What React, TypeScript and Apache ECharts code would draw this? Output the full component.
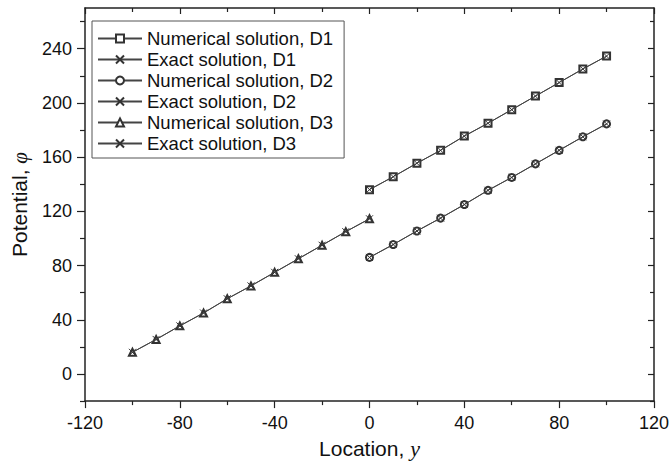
import React, { useEffect, useRef } from "react";
import * as echarts from "echarts";

const xLeft = [-100, -90, -80, -70, -60, -50, -40, -30, -20, -10, 0];
const xRight = [0, 10, 20, 30, 40, 50, 60, 70, 80, 90, 100];

const d1Numerical = [136, 145.5, 155.5, 165, 175.5, 185, 195, 205, 215, 225, 234.5];
const d1Exact = [136, 145.5, 155.5, 165, 175.5, 185, 195, 205, 215, 225, 234.5];
const d2Numerical = [86, 95.5, 105.5, 115, 125, 135.5, 145, 155, 165, 175, 184.5];
const d2Exact = [86, 95.5, 105.5, 115, 125, 135.5, 145, 155, 165, 175, 184.5];
const d3Numerical = [16, 25.5, 35.5, 45, 55.5, 65, 75, 85, 95, 105, 114.5];
const d3Exact = [16, 25.5, 35.5, 45, 55.5, 65, 75, 85, 95, 105, 114.5];

const yMajorTicks = [0, 40, 80, 120, 160, 200, 240];
const yMinorTicks = [-20, 20, 60, 100, 140, 180, 220, 260];

const seriesNames = [
  "Numerical solution, D1",
  "Exact solution, D1",
  "Numerical solution, D2",
  "Exact solution, D2",
  "Numerical solution, D3",
  "Exact solution, D3",
];

const FONT = "'Liberation Sans', Arial, Helvetica, sans-serif";
const SERIF = "'Liberation Serif', 'Times New Roman', serif";
const AX = "#222";
const X_SYMBOL = "path://M0,0L10,10M10,0L0,10";

const pairs = (xs: number[], ys: number[]) => xs.map((x, i) => [x, ys[i]]);

export default function App() {
  const ref = useRef<HTMLDivElement>(null);
  useEffect(() => {
    if (!ref.current) return;
    const chart = echarts.init(ref.current, undefined, { renderer: "svg" });
    const axLine = { show: true, onZero: false, lineStyle: { color: AX, width: 1.5 } };
    const noLine = { show: false, onZero: false };
    const tickStyle = { color: AX, width: 1.2 };
    const numSeries = (name: string, xs: number[], ys: number[], symbol: string) => ({
      name,
      type: "line",
      data: pairs(xs, ys),
      symbol,
      symbolSize: 7,
      showSymbol: true,
      lineStyle: { color: "#444", width: 1 },
      itemStyle: { color: "#333", borderWidth: 1 },
      z: 3,
    });
    const exSeries = (name: string, xs: number[], ys: number[]) => ({
      name,
      type: "line",
      data: pairs(xs, ys),
      symbol: X_SYMBOL,
      symbolSize: 7,
      showSymbol: true,
      lineStyle: { color: "#444", width: 1 },
      itemStyle: { color: "#333", borderColor: "#333", borderWidth: 1 },
      z: 4,
    });
    chart.setOption({
      animation: false,
      backgroundColor: "#fff",
      textStyle: { fontFamily: FONT },
      grid: { left: 85, right: 17, top: 8, bottom: 60, containLabel: false },
      legend: {
        orient: "vertical",
        left: 92,
        top: 21,
        itemWidth: 44,
        itemHeight: 10,
        itemGap: 0,
        padding: [7, 11, 4, 5],
        borderColor: "#555",
        borderWidth: 1,
        backgroundColor: "#fff",
        textStyle: { fontSize: 18.5, lineHeight: 21, color: "#111", fontFamily: FONT },
        data: seriesNames,
      },
      xAxis: [
        {
          type: "value",
          position: "bottom",
          min: -120,
          max: 120,
          interval: 40,
          axisLine: axLine,
          axisTick: { show: true, length: 7, lineStyle: tickStyle },
          minorTick: { show: true, splitNumber: 2, length: 4, lineStyle: tickStyle },
          axisLabel: { margin: 13, fontSize: 18, color: "#111", fontFamily: FONT },
          splitLine: { show: false },
          name: "Location, {i|y}",
          nameLocation: "middle",
          nameGap: 34,
          nameTextStyle: {
            fontSize: 21,
            color: "#111",
            fontFamily: FONT,
            rich: { i: { fontFamily: SERIF, fontStyle: "italic", fontSize: 22, color: "#111" } },
          },
        },
        {
          type: "value",
          position: "top",
          min: -120,
          max: 120,
          interval: 40,
          axisLine: axLine,
          axisTick: { show: true, inside: true, length: 6, lineStyle: tickStyle },
          minorTick: { show: true, splitNumber: 2, length: 4, lineStyle: tickStyle },
          axisLabel: { show: false },
          splitLine: { show: false },
        },
      ],
      yAxis: [
        {
          type: "value",
          position: "left",
          min: -20,
          max: 270,
          axisLine: axLine,
          axisTick: { show: true, length: 8, customValues: yMajorTicks, lineStyle: tickStyle },
          axisLabel: { margin: 13, fontSize: 18, color: "#111", fontFamily: FONT, customValues: yMajorTicks },
          splitLine: { show: false },
          name: "Potential, {i|φ}",
          nameLocation: "middle",
          nameGap: 55,
          nameTextStyle: {
            fontSize: 21,
            color: "#111",
            fontFamily: FONT,
            rich: { i: { fontFamily: SERIF, fontStyle: "italic", fontSize: 21, color: "#111" } },
          },
        },
        {
          type: "value",
          position: "left",
          min: -20,
          max: 270,
          axisLine: noLine,
          axisTick: { show: true, length: 5, customValues: yMinorTicks, lineStyle: tickStyle },
          axisLabel: { show: false },
          splitLine: { show: false },
        },
        {
          type: "value",
          position: "right",
          min: -20,
          max: 270,
          axisLine: axLine,
          axisTick: { show: true, inside: true, length: 6, customValues: yMajorTicks, lineStyle: tickStyle },
          axisLabel: { show: false },
          splitLine: { show: false },
        },
        {
          type: "value",
          position: "right",
          min: -20,
          max: 270,
          axisLine: noLine,
          axisTick: { show: true, inside: true, length: 4, customValues: yMinorTicks, lineStyle: tickStyle },
          axisLabel: { show: false },
          splitLine: { show: false },
        },
      ],
      series: [
        numSeries(seriesNames[0], xRight, d1Numerical, "emptyRect"),
        exSeries(seriesNames[1], xRight, d1Exact),
        numSeries(seriesNames[2], xRight, d2Numerical, "emptyCircle"),
        exSeries(seriesNames[3], xRight, d2Exact),
        numSeries(seriesNames[4], xLeft, d3Numerical, "emptyTriangle"),
        exSeries(seriesNames[5], xLeft, d3Exact),
      ],
    });
    return () => chart.dispose();
  }, []);
  return (
    <div
      ref={ref}
      style={{ position: "fixed", left: 0, top: 0, width: 672, height: 464 }}
    />
  );
}
